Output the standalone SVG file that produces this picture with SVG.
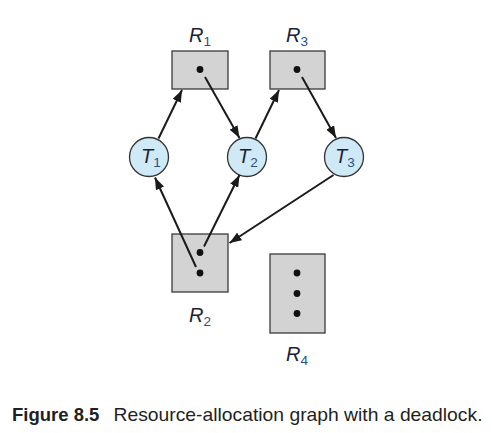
<svg xmlns="http://www.w3.org/2000/svg" width="492" height="433" viewBox="0 0 492 433">
<style>
.box{fill:#d3d3d3;stroke:#3a3a3a;stroke-width:1.3}
.dot{fill:#111}
.th{fill:#cfe9f7;stroke:#333;stroke-width:1.3}
.lbl{font-family:"Liberation Sans",Arial,sans-serif;font-style:italic;font-size:20px;fill:#1a2238}
.sub{font-style:normal;font-size:13.5px;fill:#2a4f85}
.edge{stroke:#1a1a1a;stroke-width:2;fill:none;marker-end:url(#ah)}
.cap{font-family:"Liberation Sans",Arial,sans-serif;font-size:18.5px;fill:#231f20}
</style>
<defs>
<marker id="ah" viewBox="0 0 12 9" refX="12" refY="4.5" markerWidth="12" markerHeight="9" markerUnits="userSpaceOnUse" orient="auto">
<path d="M0,0 L12,4.5 L0,9 Z" fill="#1a1a1a"/>
</marker>
</defs>
<rect width="492" height="433" fill="#fff"/>
<g id="R1">
<rect class="box" x="172" y="51" width="56" height="38"/>
<circle class="dot" cx="200" cy="69.5" r="3.4"/>
<text class="lbl" x="189" y="42">R<tspan class="sub" dy="4">1</tspan></text>
</g>
<g id="R3">
<rect class="box" x="270" y="51" width="55" height="38"/>
<circle class="dot" cx="297" cy="69.5" r="3.4"/>
<text class="lbl" x="286" y="42">R<tspan class="sub" dy="4">3</tspan></text>
</g>
<g id="R2">
<rect class="box" x="172" y="234" width="56" height="58"/>
<circle class="dot" cx="200" cy="252.5" r="3.4"/>
<circle class="dot" cx="200" cy="273" r="3.4"/>
<text class="lbl" x="189" y="322">R<tspan class="sub" dy="4">2</tspan></text>
</g>
<g id="R4">
<rect class="box" x="270" y="254" width="55" height="79"/>
<circle class="dot" cx="297" cy="273" r="3.4"/>
<circle class="dot" cx="297" cy="293.5" r="3.4"/>
<circle class="dot" cx="297" cy="313.5" r="3.4"/>
<text class="lbl" x="286" y="361">R<tspan class="sub" dy="4">4</tspan></text>
</g>
<g id="T1">
<circle class="th" cx="149" cy="157" r="19.5"/>
<text class="lbl" x="141" y="163">T<tspan class="sub" dy="4">1</tspan></text>
</g>
<g id="T2">
<circle class="th" cx="247" cy="157" r="19.5"/>
<text class="lbl" x="238" y="163">T<tspan class="sub" dy="4">2</tspan></text>
</g>
<g id="T3">
<circle class="th" cx="344" cy="157" r="19.5"/>
<text class="lbl" x="335" y="163">T<tspan class="sub" dy="4">3</tspan></text>
</g>
<g id="connectors">
<line class="edge" x1="158.5" y1="138.5" x2="182" y2="90"/>
<line class="edge" x1="205" y1="77" x2="239.5" y2="138"/>
<line class="edge" x1="255.5" y1="138.5" x2="279" y2="90"/>
<line class="edge" x1="302" y1="77" x2="336" y2="138"/>
<line class="edge" x1="196" y1="267" x2="155" y2="177.5"/>
<line class="edge" x1="204" y1="246.5" x2="239.5" y2="175"/>
<line class="edge" x1="333.5" y1="175" x2="229.5" y2="243"/>
</g>
<g id="caption">
<text class="cap" x="12" y="421"><tspan font-weight="bold">Figure 8.5</tspan><tspan x="113.5" textLength="369" lengthAdjust="spacingAndGlyphs">Resource-allocation graph with a deadlock.</tspan></text>
</g>
</svg>
